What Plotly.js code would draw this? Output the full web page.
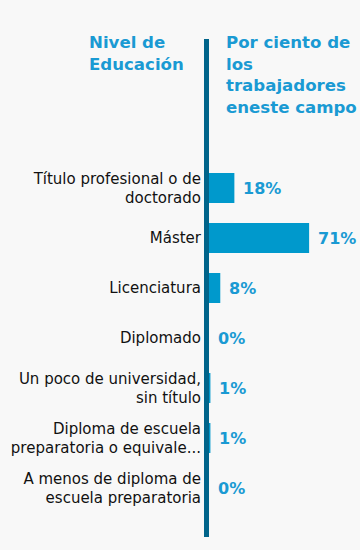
<!DOCTYPE html>
<html>
<head>
<meta charset="utf-8">
<script src="https://cdn.plot.ly/plotly-3.0.1.min.js"></script>
<style>
html,body{margin:0;padding:0;background:#f8f8f8;}
#chart{width:360px;height:550px;}
</style>
</head>
<body>
<div id="chart"></div>
<script>
const categories = [
  "Título profesional o de<br>doctorado",
  "Máster",
  "Licenciatura",
  "Diplomado",
  "Un poco de universidad,<br>sin título",
  "Diploma de escuela<br>preparatoria o equivale...",
  "A menos de diploma de<br>escuela preparatoria"
];
const values = [18, 71, 8, 0, 1, 1, 0];
const valueLabels = ["18%", "71%", "8%", "0%", "1%", "1%", "0%"];
const headerLeft = "Nivel de<br>Educación";
const headerRight = "Por ciento de<br>los<br>trabajadores<br>eneste campo";

const blue = "#0099cc";
const textBlue = "#1a9ad3";
const W = 360, H = 550, L = 209, R = 10, T = 39, B = 13;
const pw = W - L - R, ph = H - T - B;

const annotations = categories.map((c, i) => ({
  x: values[i], y: c, xref: "x", yref: "y",
  text: valueLabels[i], showarrow: false,
  xanchor: "left", yanchor: "middle", xshift: 7,
  font: {family: "DejaVu Sans", size: 16, color: textBlue, weight: "bold"}
}));
annotations.push({
  x: (87 - L) / pw, y: (H - B - 31) / ph, xref: "paper", yref: "paper",
  text: "<b>" + headerLeft + "</b>", showarrow: false, align: "left",
  xanchor: "left", yanchor: "top",
  font: {family: "DejaVu Sans", size: 16.6, color: textBlue}
});
annotations.push({
  x: (224 - L) / pw, y: (H - B - 31) / ph, xref: "paper", yref: "paper",
  text: "<b>" + headerRight + "</b>", showarrow: false, align: "left",
  xanchor: "left", yanchor: "top",
  font: {family: "DejaVu Sans", size: 16.6, color: textBlue}
});

Plotly.newPlot("chart", [{
  type: "bar", orientation: "h",
  x: values, y: categories,
  marker: {color: blue},
  hoverinfo: "none"
}], {
  width: W, height: H,
  margin: {l: L, r: R, t: T, b: B, pad: 0},
  paper_bgcolor: "#f8f8f8", plot_bgcolor: "#f8f8f8",
  bargap: 0.4,
  showlegend: false,
  xaxis: {range: [0, 100], showgrid: false, zeroline: false, showticklabels: false, showline: false, fixedrange: true},
  yaxis: {type: "category", range: [6.98, -2.98], autorange: false, showgrid: false, zeroline: false,
          showline: false, ticks: "", ticklabelstandoff: 7,
          tickfont: {family: "DejaVu Sans", size: 15, color: "#111111"}, fixedrange: true},
  shapes: [{
    type: "line", xref: "paper", yref: "paper",
    x0: -2.5 / pw, x1: -2.5 / pw, y0: 0, y1: 1,
    line: {color: "#00648a", width: 5}
  }],
  annotations: annotations
}, {displayModeBar: false, staticPlot: true});
</script>
</body>
</html>
